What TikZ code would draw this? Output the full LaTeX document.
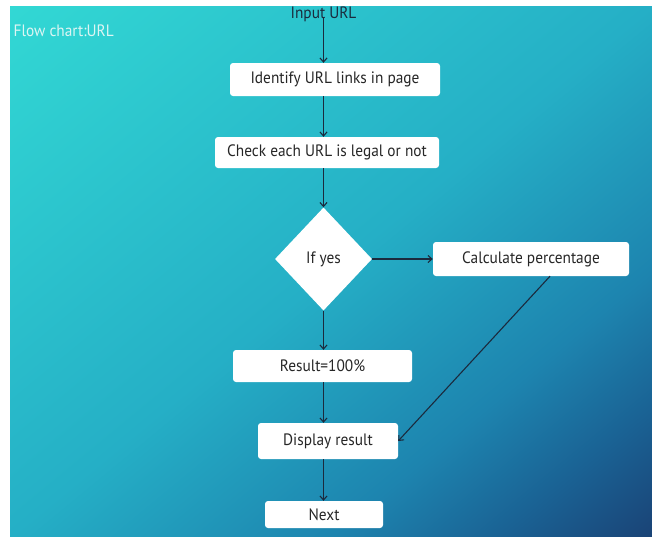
\documentclass[tikz,border=0pt]{standalone}
\usepackage{fontspec}
\setmainfont{PT Sans}[FakeStretch=0.93]
\usetikzlibrary{shapes.geometric,arrows.meta,calc}

\definecolor{linkcol}{HTML}{1B2A3D}
\definecolor{txtcol}{HTML}{262626}
\definecolor{titlecol}{HTML}{DDF5F3}

% diagonal backdrop: teal at the top-left corner, navy at the bottom-right;
% the path's bounding box spans the inner [-25bp,25bp] square, so
% t = (x - y + 50)/100 runs from 0 (top-left) to 1 (bottom-right)
\pgfdeclarefunctionalshading{bgshade}{\pgfpoint{-50bp}{-50bp}}{\pgfpoint{50bp}{50bp}}{}{
  sub 50 add 100 div
  dup 0 lt {pop 0} if dup 1 gt {pop 1} if
  dup 0.5 lt
  {2 mul dup dup -0.055 mul 0.831 add 3 1 roll -0.161 mul 0.847 add exch -0.051 mul 0.196 add 3 1 roll exch}
  {dup 0.75 lt
    {0.5 sub 4 mul dup dup -0.090 mul 0.776 add 3 1 roll -0.168 mul 0.686 add exch -0.031 mul 0.145 add 3 1 roll exch}
    {dup 0.88 lt
      {0.75 sub 7.6923 mul dup dup -0.106 mul 0.686 add 3 1 roll -0.134 mul 0.518 add exch -0.012 mul 0.114 add 3 1 roll exch}
      {0.88 sub 8.3333 mul dup dup -0.117 mul 0.580 add 3 1 roll -0.121 mul 0.384 add exch 0 mul 0.102 add 3 1 roll exch}
    ifelse}
  ifelse}
  ifelse
}

\tikzset{
  mainfont/.style={font=\fontsize{16.5}{19}\selectfont},
  stepbox/.style={fill=white, rounded corners=3pt, text=txtcol,
    inner sep=0pt, mainfont},
  decision/.style={diamond, fill=white, text=txtcol, inner sep=0pt,
    mainfont},
  conn/.style={draw=linkcol, line width=1.1pt,
    -{Straight Barb[length=4pt,width=7pt]}},
}

\begin{document}
\begin{tikzpicture}[x=1pt, y=-1pt]
  \useasboundingbox (0,0) rectangle (652,536);
  \fill[white] (0,0) rectangle (652,536);
  \shade[shading=bgshade] (10,6) rectangle (652,536);

  \node[text=titlecol, mainfont, inner sep=0pt, anchor=west] (title) at (13.5,31) {Flow chart:URL};
  \node[text=linkcol, inner sep=0pt, mainfont] (input) at (323.5,14) {Input URL};

  \node[stepbox, minimum width=210pt, minimum height=33pt] (identify) at (335,79.5) {Identify URL links in page};
  \node[stepbox, minimum width=224pt, minimum height=31pt] (check) at (327,152.5) {Check each URL is legal or not};
  \node[decision, minimum width=97pt, minimum height=103pt] (dec) at (323.5,259) {If yes};
  \node[stepbox, minimum width=196pt, minimum height=34pt] (calcp) at (531,259) {Calculate percentage};
  \node[stepbox, minimum width=179pt, minimum height=32pt] (result) at (322.5,366) {Result=100\%};
  \node[stepbox, minimum width=140pt, minimum height=36pt] (display) at (328,441) {Display result};
  \node[stepbox, minimum width=118pt, minimum height=27pt] (next) at (324,514.5) {Next};

  \coordinate (calcfoot) at ([xshift=19pt]calcp.south);

  \draw[conn] (input.base) -- (input |- identify.north);
  \draw[conn] (input |- identify.south) -- (input |- check.north);
  \draw[conn] (input |- check.south) -- (dec.north);
  \draw[conn] (dec.east) -- (calcp.west);
  \draw[conn] (dec.south) -- (input |- result.north);
  \draw[conn] (input |- result.south) -- (input |- display.north);
  \draw[conn] (calcfoot) -- (display.east);
  \draw[conn] (input |- display.south) -- (input |- next.north);
\end{tikzpicture}
\end{document}
